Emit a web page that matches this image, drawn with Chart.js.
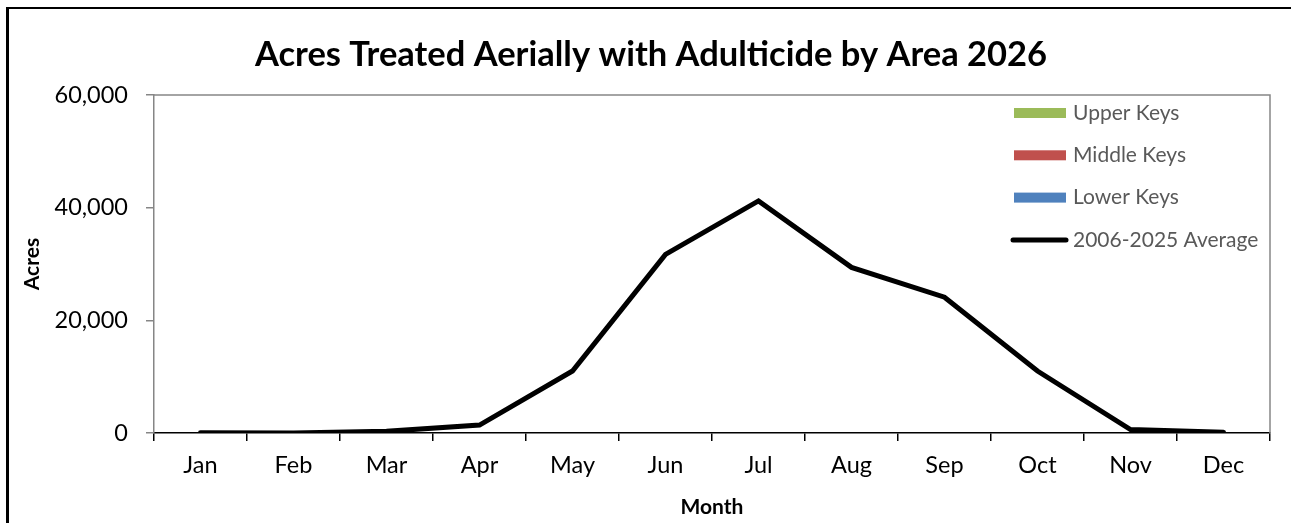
<!DOCTYPE html>
<html>
<head>
<meta charset="utf-8">
<script src="https://cdn.jsdelivr.net/npm/chart.js@4"></script>
<style>
  html, body { margin: 0; padding: 0; background: #fff; overflow: hidden; }
  #wrap { position: relative; width: 1291px; height: 523px; overflow: hidden; }
  #frame { position: absolute; left: 6px; top: 7px; width: 1400px; height: 600px; border-left: 3px solid #000; border-top: 2px solid #000; pointer-events: none; }
</style>
</head>
<body>
<div id="wrap">
  <canvas id="acresChart" width="1291" height="523"></canvas>
  <div id="frame"></div>
</div>
<script>
var months = ['Jan', 'Feb', 'Mar', 'Apr', 'May', 'Jun', 'Jul', 'Aug', 'Sep', 'Oct', 'Nov', 'Dec'];
var upperKeys = [0, 0, 0, 0, 0, 0, 0, 0, 0, 0, 0, 0];
var middleKeys = [0, 0, 0, 0, 0, 0, 0, 0, 0, 0, 0, 0];
var lowerKeys = [0, 0, 0, 0, 0, 0, 0, 0, 0, 0, 0, 0];
var avg2006to2025 = [50, 0, 300, 1400, 11000, 31700, 41200, 29400, 24100, 11000, 600, 150];
var yTicks = [0, 20000, 40000, 60000];

var FONT = 'Lato, "Open Sans", sans-serif';

// legend drawn inside the plot, top right
var insideLegend = {
  id: 'insideLegend',
  afterDraw: function(chart) {
    var ctx = chart.ctx;
    var ds = chart.data.datasets;
    var x = 1014, y = 113, gap = 42.3;
    ctx.save();
    ctx.font = '21px ' + FONT;
    ctx.textBaseline = 'middle';
    for (var i = 0; i < ds.length; i++) {
      var cy = y + i * gap;
      if (ds[i].type === 'line') {
        ctx.strokeStyle = ds[i].borderColor;
        ctx.lineWidth = 5;
        ctx.lineCap = 'round';
        ctx.beginPath(); ctx.moveTo(x - 1, cy); ctx.lineTo(x + 52, cy); ctx.stroke();
      } else {
        ctx.fillStyle = ds[i].backgroundColor;
        ctx.fillRect(x, cy - 5, 52, 10);
      }
      ctx.fillStyle = '#595959';
      ctx.fillText(ds[i].label, x + 59, cy);
    }
    ctx.restore();
  }
};

var plotBorder = {
  id: 'plotBorder',
  beforeDatasetsDraw: function(chart) {
    var a = chart.chartArea, ctx = chart.ctx;
    ctx.save();
    ctx.strokeStyle = '#868686';
    ctx.lineWidth = 1.5;
    ctx.beginPath();
    ctx.moveTo(a.left, a.top); ctx.lineTo(a.right, a.top); ctx.lineTo(a.right, a.bottom);
    ctx.stroke();
    ctx.restore();
  }
};

var ctx = document.getElementById('acresChart').getContext('2d');
new Chart(ctx, {
  type: 'bar',
  data: {
    labels: months,
    datasets: [
      { label: 'Upper Keys', data: upperKeys, backgroundColor: '#9BBB59', borderWidth: 0, stack: 's', order: 2 },
      { label: 'Middle Keys', data: middleKeys, backgroundColor: '#C0504D', borderWidth: 0, stack: 's', order: 2 },
      { label: 'Lower Keys', data: lowerKeys, backgroundColor: '#4F81BD', borderWidth: 0, stack: 's', order: 2 },
      { type: 'line', label: '2006-2025 Average', data: avg2006to2025, borderColor: '#000', backgroundColor: '#000', borderWidth: 5, pointRadius: 0, tension: 0, borderCapStyle: 'round', borderJoinStyle: 'miter', order: 1 }
    ]
  },
  options: {
    responsive: false,
    animation: false,
    layout: { padding: { top: 0, right: 21, bottom: 0, left: 32 } },
    plugins: {
      legend: { display: false },
      tooltip: { enabled: false },
      title: {
        display: true,
        text: 'Acres Treated Aerially with Adulticide by Area 2026',
        color: '#000',
        font: { family: FONT, size: 34.5, weight: 'bold', lineHeight: 1.2 },
        padding: { top: 34, bottom: 19.6 }
      }
    },
    scales: {
      x: {
        stacked: true,
        grid: { drawOnChartArea: false, offset: true, tickLength: 8, color: '#000', lineWidth: 1.5 },
        border: { color: '#000', width: 1.5 },
        ticks: { color: '#000', font: { family: FONT, size: 23.5 }, padding: 10, maxRotation: 0 },
        title: { display: true, text: 'Month', color: '#000', font: { family: FONT, size: 21, weight: 'bold' }, padding: { top: 0, bottom: 3 } },
        afterFit: function(scale) { scale.height = 90; }
      },
      y: {
        stacked: true,
        min: 0,
        max: 60000,
        afterBuildTicks: function(scale) { scale.ticks = yTicks.map(function(v) { return { value: v }; }); },
        grid: { drawOnChartArea: false, tickLength: 8, color: '#868686', lineWidth: 1.5 },
        border: { color: '#868686', width: 1.5 },
        ticks: { color: '#000', font: { family: FONT, size: 23.5 }, padding: 18,
          callback: function(v) { return v.toLocaleString('en-US'); } },
        title: { display: true, text: 'Acres', color: '#000', font: { family: FONT, size: 21, weight: 'bold' }, padding: { top: -12, bottom: 0 } },
        afterFit: function(scale) { scale.width = 122; }
      }
    }
  },
  plugins: [plotBorder, insideLegend]
});
</script>
</body>
</html>
